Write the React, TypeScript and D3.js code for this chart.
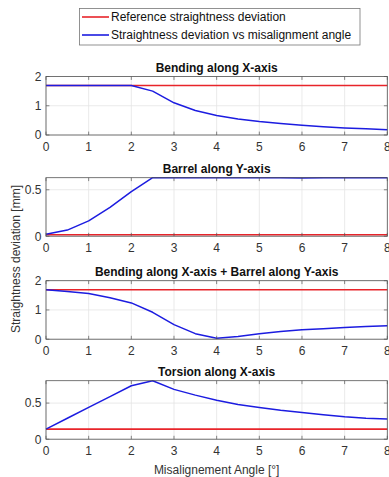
import React from "react";
import * as d3 from "d3";

const angles = [0, 0.5, 1, 1.5, 2, 2.5, 3, 3.5, 4, 4.5, 5, 5.5, 6, 6.5, 7, 7.5, 8];

const bendingX = [1.69, 1.69, 1.69, 1.69, 1.69, 1.5, 1.1, 0.84, 0.67, 0.55, 0.46, 0.39, 0.33, 0.28, 0.24, 0.21, 0.18];
const barrelY = [0.02, 0.066, 0.165, 0.31, 0.48, 0.63, 0.63, 0.63, 0.63, 0.63, 0.629, 0.629, 0.628, 0.629, 0.629, 0.629, 0.63];
const combined = [1.69, 1.63, 1.56, 1.42, 1.24, 0.92, 0.5, 0.19, 0.03, 0.09, 0.19, 0.26, 0.32, 0.36, 0.4, 0.43, 0.46];
const torsionX = [0.14, 0.29, 0.44, 0.59, 0.74, 0.81, 0.69, 0.61, 0.54, 0.48, 0.44, 0.4, 0.37, 0.34, 0.31, 0.29, 0.28];

const refValues = [1.69, 0.015, 1.69, 0.14];
const seriesList = [bendingX, barrelY, combined, torsionX];
const titles = [
  "Bending along X-axis",
  "Barrel along Y-axis",
  "Bending along X-axis + Barrel along Y-axis",
  "Torsion along X-axis",
];
const yMax = [2, 0.63, 2, 0.81];
const yTicks = [[0, 1, 2], [0, 0.5], [0, 1, 2], [0, 0.5]];
const xTicks = [0, 1, 2, 3, 4, 5, 6, 7, 8];

const legendLabels = ["Reference straightness deviation", "Straightness deviation vs misalignment angle"];
const xLabel = "Misalignement Angle [°]";
const yLabel = "Straightness deviation [mm]";

const RED = "#e8242a";
const BLUE = "#1c1ce0";
const FONT = "'Liberation Sans', Arial, sans-serif";

const W = 389;
const H = 477;
const left = 46;
const right = 387.3;
const tops = [76.5, 177.7, 280.7, 380.7];
const ph = 58.5;

function Panel({ i }: { i: number }) {
  const top = tops[i];
  const bottom = top + ph;
  const x = d3.scaleLinear().domain([0, 8]).range([left, right]);
  const y = d3.scaleLinear().domain([0, yMax[i]]).range([bottom, top]);
  const line = d3
    .line<number>()
    .x((_, k) => x(angles[k]))
    .y((v) => y(v));
  const refLine = angles.map(() => refValues[i]);
  const tl = 3.4;
  const axisColor = "#555";
  const tickColor = "#333";
  return (
    <g>
      <rect x={left} y={top} width={right - left} height={ph} fill="#fff" />
      {xTicks.map((t) => (
        <line key={"gx" + t} x1={x(t)} x2={x(t)} y1={top} y2={bottom} stroke="#e4e4e4" strokeWidth={0.8} />
      ))}
      {yTicks[i].map((t) => (
        <line key={"gy" + t} x1={left} x2={right} y1={y(t)} y2={y(t)} stroke="#e4e4e4" strokeWidth={0.8} />
      ))}
      <path d={line(refLine) || ""} fill="none" stroke={RED} strokeWidth={1.6} />
      <path d={line(seriesList[i]) || ""} fill="none" stroke={BLUE} strokeWidth={1.5} strokeLinejoin="round" />
      {xTicks.map((t) => (
        <g key={"tx" + t}>
          <line x1={x(t)} x2={x(t)} y1={bottom} y2={bottom - tl} stroke={axisColor} strokeWidth={0.7} />
          <line x1={x(t)} x2={x(t)} y1={top} y2={top + tl} stroke={axisColor} strokeWidth={0.7} />
          <text x={x(t)} y={bottom + 16} textAnchor="middle" fontSize={12} fill={tickColor} fontFamily={FONT}>
            {t}
          </text>
        </g>
      ))}
      {yTicks[i].map((t) => (
        <g key={"ty" + t}>
          <line x1={left} x2={left + tl} y1={y(t)} y2={y(t)} stroke={axisColor} strokeWidth={0.7} />
          <line x1={right} x2={right - tl} y1={y(t)} y2={y(t)} stroke={axisColor} strokeWidth={0.7} />
          <text x={41.5} y={y(t) + 4.3} textAnchor="end" fontSize={12} fill={tickColor} fontFamily={FONT}>
            {t}
          </text>
        </g>
      ))}
      <rect x={left} y={top} width={right - left} height={ph} fill="none" stroke={axisColor} strokeWidth={0.8} />
      <text
        x={(left + right) / 2}
        y={top - 5}
        textAnchor="middle"
        fontSize={12}
        fontWeight="bold"
        fill="#111"
        fontFamily={FONT}
      >
        {titles[i]}
      </text>
    </g>
  );
}

export default function App() {
  return (
    <svg
      width={W}
      height={H}
      style={{ position: "absolute", left: 0, top: 0, background: "#fff" }}
    >
      <rect x={0} y={0} width={W} height={H} fill="#fff" />
      {/* legend */}
      <rect x={79.5} y={8.5} width={280.5} height={36.5} fill="#fff" stroke="#777" strokeWidth={0.8} />
      <line x1={82} x2={109} y1={17} y2={17} stroke={RED} strokeWidth={1.6} />
      <line x1={82} x2={109} y1={35} y2={35} stroke={BLUE} strokeWidth={1.6} />
      <text x={111} y={21.3} fontSize={12} fill="#111" fontFamily={FONT}>
        {legendLabels[0]}
      </text>
      <text x={111} y={39.3} fontSize={12} fill="#111" fontFamily={FONT}>
        {legendLabels[1]}
      </text>
      {[0, 1, 2, 3].map((i) => (
        <Panel key={i} i={i} />
      ))}
      <text x={(left + right) / 2} y={473.5} textAnchor="middle" fontSize={12} fill="#333" fontFamily={FONT}>
        {xLabel}
      </text>
      <text
        transform={`translate(19.5, 259) rotate(-90)`}
        textAnchor="middle"
        fontSize={12}
        fill="#333"
        fontFamily={FONT}
      >
        {yLabel}
      </text>
    </svg>
  );
}
